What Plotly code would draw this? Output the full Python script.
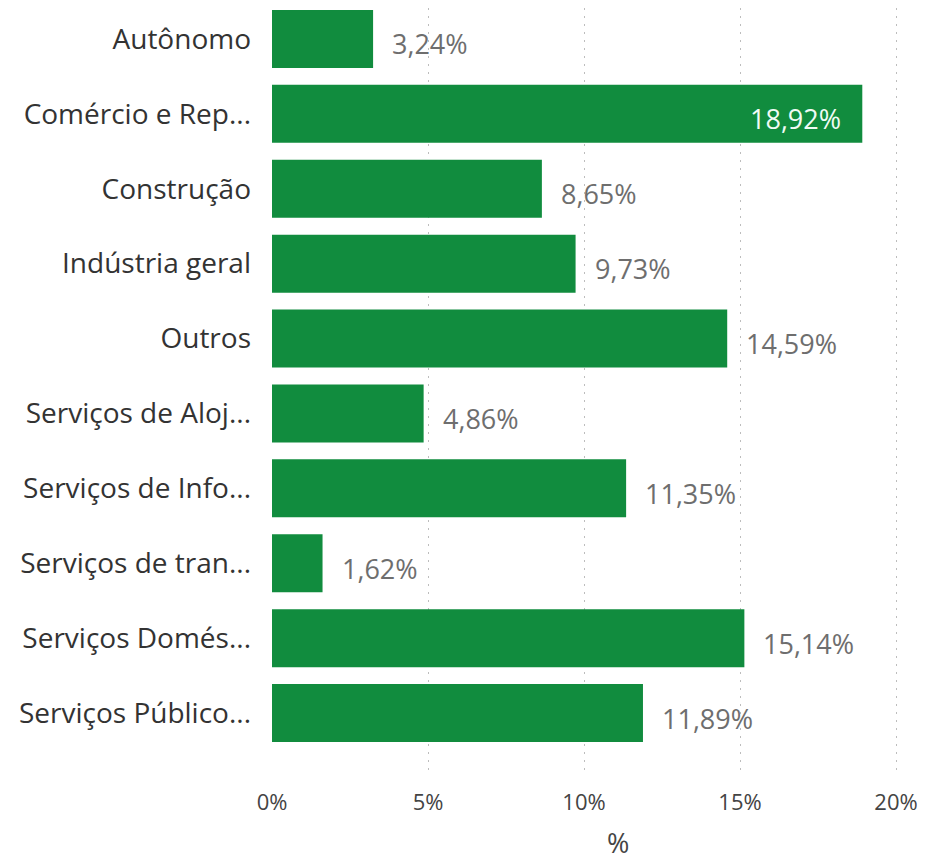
import plotly.graph_objects as go

categories = ["Autônomo", "Comércio e Rep...", "Construção", "Indústria geral", "Outros",
              "Serviços de Aloj...", "Serviços de Info...", "Serviços de tran...",
              "Serviços Domés...", "Serviços Público..."]
values = [3.24, 18.92, 8.65, 9.73, 14.59, 4.86, 11.35, 1.62, 15.14, 11.89]
x_ticks = [0, 5, 10, 15, 20]
x_tick_labels = ["0%", "5%", "10%", "15%", "20%"]
axis_title = "%"

GREEN = "#118C3E"
FONT = "Open Sans, Noto Sans, sans-serif"

# page body has an 8px margin, so the figure is sized to fill the rest of the window
W, H = 918, 855
ml, mr, mt, mb = 264, 0, 0, 88
PX_PER_UNIT = 31.2
SLOT_PX = 74.9

def fmt(v):
    return f"{v:.2f}".replace(".", ",") + "%"

fig = go.Figure(go.Bar(
    x=values, y=categories, orientation="h",
    marker=dict(color=GREEN, line=dict(width=0)),
    hoverinfo="skip",
))

inside_threshold = 17
annotations = []
for c, v in zip(categories, values):
    if v > inside_threshold:
        annotations.append(dict(x=v, y=c, xref="x", yref="y", text=fmt(v), showarrow=False,
                                xanchor="right", xshift=-19, yshift=-5,
                                font=dict(family=FONT, size=27, color="#F0FBF5")))
    else:
        annotations.append(dict(x=v, y=c, xref="x", yref="y", text=fmt(v), showarrow=False,
                                xanchor="left", xshift=17, yshift=-5,
                                font=dict(family=FONT, size=27, color="#6E6E6E")))
annotations.append(dict(x=(610 - ml) / (W - ml - mr), y=0, xref="paper", yref="paper",
                        text=axis_title, showarrow=False, xanchor="center", yanchor="middle",
                        yshift=-67, font=dict(family=FONT, size=27, color="#444444")))

plot_h = H - mt - mb
top = -0.5 + 6.5 / SLOT_PX
bottom = top + plot_h / SLOT_PX

fig.update_layout(
    width=W, height=H,
    margin=dict(l=ml, r=mr, t=mt, b=mb, pad=0),
    plot_bgcolor="white", paper_bgcolor="white",
    bargap=0.226,
    showlegend=False,
    annotations=annotations,
    font=dict(family=FONT),
)
fig.update_xaxes(
    range=[0, (W - ml - mr) / PX_PER_UNIT],
    tickvals=x_ticks, ticktext=x_tick_labels,
    showgrid=True, gridcolor="#BDBDBD", griddash="2px,6px", gridwidth=1,
    zeroline=False, showline=False, ticks="",
    ticklabelstandoff=12,
    tickfont=dict(family=FONT, size=22, color="#444444"),
)
fig.update_yaxes(
    range=[bottom, top],
    showgrid=False, zeroline=False, showline=False, ticks="",
    ticklabelstandoff=20,
    tickfont=dict(family=FONT, size=28, color="#333333"),
)

fig.write_html("out.html")
